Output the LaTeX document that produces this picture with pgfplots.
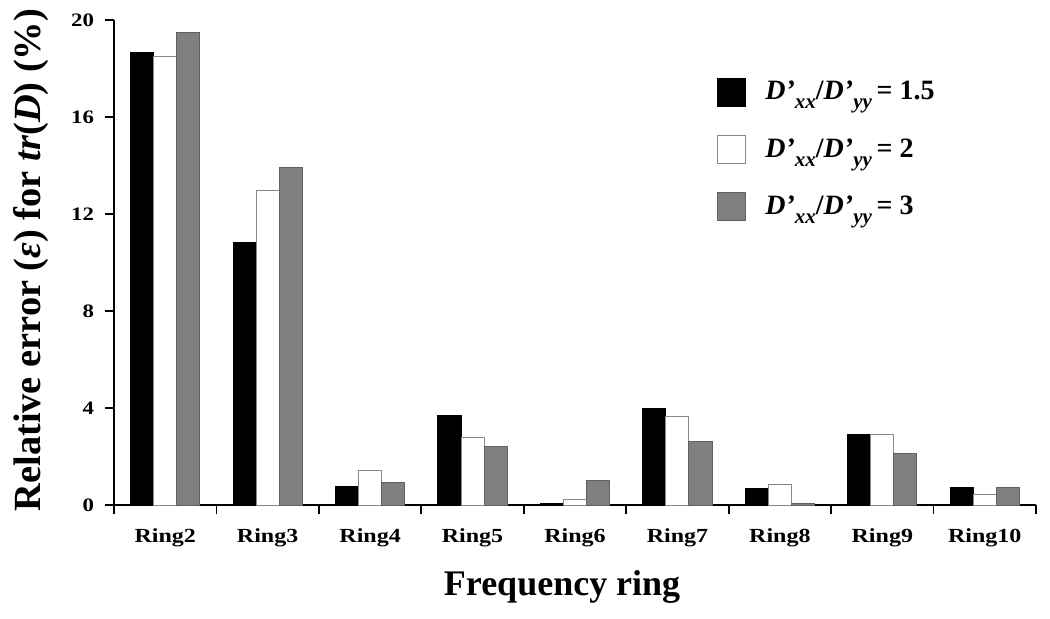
\documentclass[border=0pt]{standalone}
\usepackage{fontspec}
\setmainfont{Liberation Serif}
\newfontfamily\tickfont[FakeStretch=1.2]{Liberation Serif}
\usepackage{pgfplots}
\pgfplotsset{compat=1.18}
\definecolor{barblack}{RGB}{0,0,0}
\definecolor{bargray}{RGB}{128,128,128}
\definecolor{edgegray}{RGB}{96,96,96}
\definecolor{edgewhite}{RGB}{136,136,136}
\pgfplotstableread{
x a b c
0 18.64 18.50 19.47
1 10.83 12.99 13.92
2 0.76 1.42 0.93
3 3.68 2.80 2.43
4 0.05 0.22 1.01
5 3.99 3.65 2.63
6 0.67 0.85 0.05
7 2.91 2.91 2.12
8 0.74 0.42 0.71
}\data
\newcommand{\lsub}[1]{\raisebox{-0.32em}{\fontsize{10.5}{11}\selectfont\textit{#1}}}
\newcommand{\legtxt}[1]{\textit{D’}\lsub{xx}/\textit{D’}\lsub{yy}\,= #1}
\begin{document}
\begin{tikzpicture}
\begin{axis}[
  name=a,
  scale only axis,
  width=461pt, height=242.5pt,
  xmin=-0.5, xmax=8.5, ymin=0, ymax=20,
  axis lines=left,
  axis line style={-, line width=0.9pt},
  tick align=outside,
  major tick length=4.5pt,
  tick style={black, line width=0.9pt},
  ybar=0pt,
  bar width=0.225,
  ytick={0,4,...,20},
  /pgf/number format/assume math mode=true,
  yticklabel style={font=\tickfont\fontsize{9.5}{10}\selectfont\bfseries, xshift=-2pt},
  xtick={-0.5,0.5,...,8.5},
  xticklabels={},
  extra x ticks={0,1,...,8},
  extra x tick labels={Ring2,Ring3,Ring4,Ring5,Ring6,Ring7,Ring8,Ring9,Ring10},
  extra x tick style={major tick length=0pt, tick style={draw=none},
    xticklabel style={font=\tickfont\fontsize{10}{11}\selectfont\bfseries, anchor=base, yshift=-18.5pt}},
  xlabel={\fontsize{18}{20}\selectfont\bfseries Frequency ring},
  xlabel style={at={(axis description cs:0.486,-0.1856)}, anchor=base},
  ylabel={\fontsize{19.2}{21}\selectfont\bfseries Relative error (\textit{ε}) for \textit{tr}(\textit{D}) (\%)},
  ylabel style={at={(axis description cs:-0.09,0.505)}, anchor=center},
  legend style={draw=none, fill=none, at={(axis description cs:0.654,0.8825)}, anchor=north west,
    inner sep=0pt, row sep=13.75pt, column sep=0pt,
    font=\fontsize{14}{16}\selectfont\bfseries, cells={anchor=west}},
  legend image code/.code={\draw[#1, line width=0.5pt] (0pt,-7pt) rectangle (14pt,7pt); \path (21.5pt,0pt);},
  clip=false,
]
\addplot[fill=barblack, draw=barblack, line width=0.5pt] table[x=x,y=a]{\data};
\addplot[fill=white, draw=edgewhite, line width=0.5pt] table[x=x,y=b]{\data};
\addplot[fill=bargray, draw=edgegray, line width=0.5pt] table[x=x,y=c]{\data};
\addlegendentry{\legtxt{1.5}}
\addlegendentry{\legtxt{2}}
\addlegendentry{\legtxt{3}}
\end{axis}
\path (a.south west) ++(-57pt,-56.5pt) rectangle ++(525pt,309pt);
\end{tikzpicture}
\end{document}
